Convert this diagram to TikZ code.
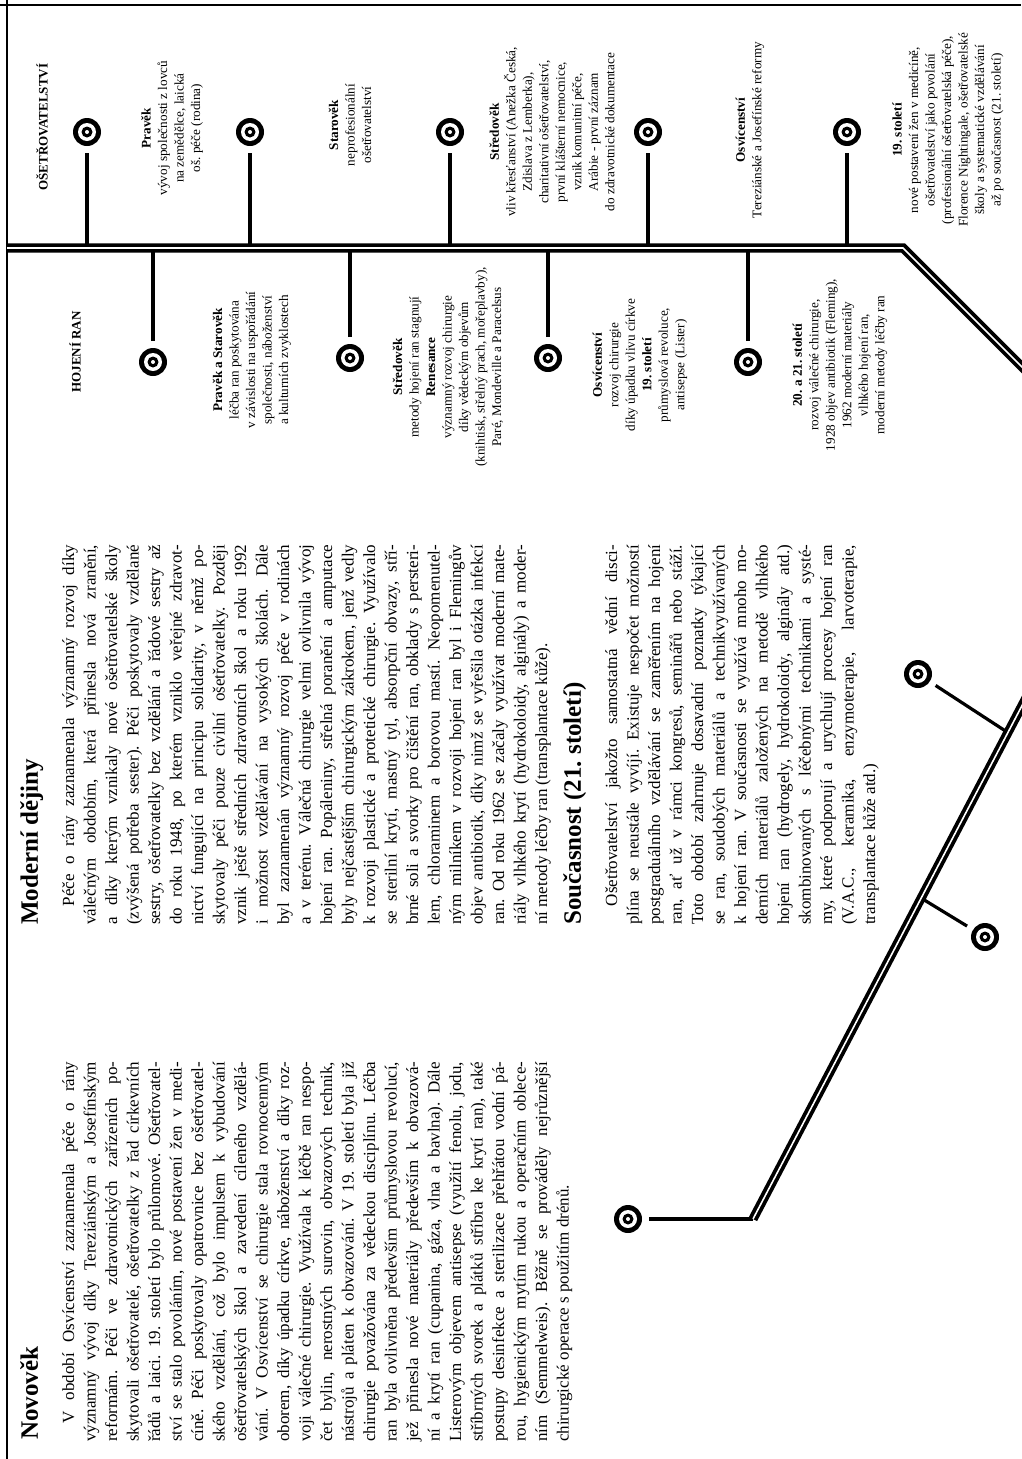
\documentclass[tikz,border=0pt]{standalone}
\usepackage{fontspec}
\setmainfont{Liberation Serif}
\usetikzlibrary{calc}
\frenchspacing
\newcommand\colsetup{\tolerance=9999\relax\hyphenpenalty=10000\relax}

\begin{document}
\begin{tikzpicture}[
  x=1pt, y=-1pt,
  heading/.style={rotate=90, anchor=north west, inner sep=0pt, font=\fontsize{25}{30}\selectfont\bfseries},
  textcol/.style={rotate=90, anchor=north west, inner sep=0pt, text width=380pt, align=justify, font=\fontsize{17}{21.5}\selectfont\colsetup},
  tlhead/.style={rotate=90, inner sep=0pt, font=\fontsize{13}{15}\selectfont\bfseries},
  event/.style={rotate=90, align=center, inner sep=0pt, font=\fontsize{13.2}{16.5}\selectfont},
  target/.style={circle, fill=black, minimum size=28pt, inner sep=0pt, outer sep=7pt,
    path picture={
      \fill[white] (path picture bounding box.center) circle[radius=9pt];
      \fill[black] (path picture bounding box.center) circle[radius=5.5pt];
      \fill[white] (path picture bounding box.center) circle[radius=2pt];}},
  stem/.style={line width=4pt},
  thinstem/.style={line width=3.2pt},
  rail/.style={line width=3.8pt, double=white, double distance=1.6pt, line join=miter},
  pageedge/.style={line width=1.6pt}
]
\useasboundingbox (0,0) rectangle (1021,1459);

% ================= PAGE EDGES =================
\draw[pageedge] (7,0) -- (7,1459);
\draw[pageedge] (0,5) -- (1021,5);

% ================= TIMELINE: HEADS =================
\node[tlhead] (hos) at (42,127) {OŠETŘOVATELSTVÍ};
\node[tlhead] (hhr) at (75,352) {HOJENÍ RAN};

% ================= TIMELINE: RAIL POINTS =================
\coordinate (r0) at (7,248);
\coordinate (rb) at (903,248);
\coordinate (r1) at (1060,405);
\coordinate (d0) at (1048,656);
\coordinate (d1) at (753,1219);

% top row (ošetřovatelství)
\node[target] (c1) at (87,132) {};
\node[target] (c2) at (250,132) {};
\node[target] (c3) at (450,132) {};
\node[target] (c4) at (648,132) {};
\node[target] (c5) at (847,132) {};
% bottom row (hojení ran)
\node[target] (c6) at (153,362) {};
\node[target] (c7) at (350,358) {};
\node[target] (c8) at (548,358) {};
\node[target] (c9) at (748,362) {};
% lower branch
\node[target] (c10) at (628,1219) {};
\node[target] (c11) at (918,674) {};
\node[target] (c12) at (985,937) {};

\foreach \i/\x in {1/87,2/250,3/450,4/648,5/847,6/153,7/350,8/548,9/748}
  \coordinate (t\i) at (\x,248);
\coordinate (b1) at ($(d0)!0.136!(d1)$);
\coordinate (b2) at ($(d0)!0.43!(d1)$);

% ================== STEMS ==================
\foreach \i in {1,...,9}
  \draw[stem] (c\i) -- (t\i);
\draw[thinstem] (c10) -- (d1);
\draw[thinstem] (c11) -- (b1);
\draw[thinstem] (c12) -- (b2);

% ================== RAILS ==================
\draw[rail] (r0) -- (rb) -- (r1);
\draw[rail] (d0) -- (d1);

% ================= EVENTS: TOP ROW =================
\node[event] (e1) at (172,128) {\textbf{Pravěk}\\vývoj společnosti z lovců\\na zemědělce, laická\\oš. péče (rodina)};
\node[event] (e2) at (350,125) {\textbf{Starověk}\\neprofesionální\\ošetřovatelství};
\node[event] (e3) at (552,132) {\textbf{Středověk}\\vliv křesťanství (Anežka Česká,\\Zdislava z Lemberka),\\charitativní ošetřovatelství,\\první klášterní nemocnice,\\vznik komunitní péče,\\Arábie - první záznam\\do zdravotnické dokumentace};
\node[event] (e4) at (750,130) {\textbf{Osvícenství}\\Tereziánské a Josefínské reformy};
\node[event] (e5) at (948,130) {\textbf{19. století}\\nové postavení žen v medicíně,\\ošetřovatelství jako povolání\\(profesionální ošetřovatelská péče),\\Florence Nightingale, ošetřovatelské\\školy a systematické vzdělávání\\až po současnost (21. století)};

% ================= EVENTS: BOTTOM ROW =================
\node[event] (e6) at (252,360) {\textbf{Pravěk a Starověk}\\léčba ran poskytována\\v závislosti na uspořádání\\společnosti, náboženství\\a kulturních zvyklostech};
\node[event] (e7) at (448,367) {\textbf{Středověk}\\metody hojení ran stagnují\\\textbf{Renesance}\\významný rozvoj chirurgie\\díky vědeckým objevům\\(knihtisk, střelný prach, mořeplavby),\\Paré, Mondeville a Paracelsus};
\node[event] (e8) at (640,365) {\textbf{Osvícenství}\\rozvoj chirurgie\\díky úpadku vlivu církve\\\textbf{19. století}\\průmyslová revoluce,\\antisepse (Lister)};
\node[event] (e9) at (840,365) {\textbf{20. a 21. století}\\rozvoj válečné chirurgie,\\1928 objev antibiotik (Fleming),\\1962 moderní materiály\\vlhkého hojení ran,\\moderní metody léčby ran};

% ================= NOVOVĚK =================
\node[heading] (hnov) at (20,1440) {Novověk};
\node[textcol] (tnov) at (62,1442) {\hspace*{1.1em}V období Osvícenství zaznamenala péče o rány\linebreak
významný vývoj díky Tereziánským a Josefínským\linebreak
reformám. Péči ve zdravotnických zařízeních po-\linebreak
skytovali ošetřovatelé, ošetřovatelky z řad církevních\linebreak
řádů a laici. 19. století bylo průlomové. Ošetřovatel-\linebreak
ství se stalo povoláním, nové postavení žen v medi-\linebreak
cíně. Péči poskytovaly opatrovnice bez ošetřovatel-\linebreak
ského vzdělání, což bylo impulsem k vybudování\linebreak
ošetřovatelských škol a zavedení cíleného vzdělá-\linebreak
vání. V Osvícenství se chirurgie stala rovnocenným\linebreak
oborem, díky úpadku církve, náboženství a díky roz-\linebreak
voji válečné chirurgie. Využívala k léčbě ran nespo-\linebreak
čet bylin, nerostných surovin, obvazových technik,\linebreak
nástrojů a pláten k obvazování. V 19. století byla již\linebreak
chirurgie považována za vědeckou disciplínu. Léčba\linebreak
ran byla ovlivněna především průmyslovou revolucí,\linebreak
jež přinesla nové materiály především k obvazová-\linebreak
ní a krytí ran (cupanina, gáza, vlna a bavlna). Dále\linebreak
Listerovým objevem antisepse (využití fenolu, jodu,\linebreak
stříbrných svorek a plátků stříbra ke krytí ran), také\linebreak
postupy desinfekce a sterilizace přehřátou vodní pá-\linebreak
rou, hygienickým mytím rukou a operačním oblece-\linebreak
ním (Semmelweis). Běžně se prováděly nejrůznější\linebreak
chirurgické operace s použitím drénů.};

% ================= MODERNÍ DĚJINY =================
\node[heading] (hmod) at (20,925) {Moderní dějiny};
\node[textcol] (tmod) at (62,925) {\hspace*{1.1em}Péče o rány zaznamenala významný rozvoj díky\linebreak
válečným obdobím, která přinesla nová zranění,\linebreak
a díky kterým vznikaly nové ošetřovatelské školy\linebreak
(zvýšená potřeba sester). Péči poskytovaly vzdělané\linebreak
sestry, ošetřovatelky bez vzdělání a řádové sestry až\linebreak
do roku 1948, po kterém vzniklo veřejné zdravot-\linebreak
nictví fungující na principu solidarity, v němž po-\linebreak
skytovaly péči pouze civilní ošetřovatelky. Později\linebreak
vznik ještě středních zdravotních škol a roku 1992\linebreak
i možnost vzdělávání na vysokých školách. Dále\linebreak
byl zaznamenán významný rozvoj péče v rodinách\linebreak
a v terénu. Válečná chirurgie velmi ovlivnila vývoj\linebreak
hojení ran. Popáleniny, střelná poranění a amputace\linebreak
byly nejčastějším chirurgickým zákrokem, jenž vedly\linebreak
k rozvoji plastické a protetické chirurgie. Využívalo\linebreak
se sterilní krytí, mastný tyl, absorpční obvazy, stří-\linebreak
brné soli a svorky pro čištění ran, obklady s persteri-\linebreak
lem, chloraminem a borovou mastí. Neopomenutel-\linebreak
ným milníkem v rozvoji hojení ran byl i Flemingův\linebreak
objev antibiotik, díky nimž se vyřešila otázka infekcí\linebreak
ran. Od roku 1962 se začaly využívat moderní mate-\linebreak
riály vlhkého krytí (hydrokoloidy, alginály) a moder-\linebreak
ní metody léčby ran (transplantace kůže).};

% ================= SOUČASNOST =================
\node[heading] (hsou) at (563,925) {Současnost (21. století)};
\node[textcol] (tsou) at (605,925) {\hspace*{1.1em}Ošetřovatelství jakožto samostatná vědní disci-\linebreak
plína se neustále vyvíjí. Existuje nespočet možností\linebreak
postgraduálního vzdělávání se zaměřením na hojení\linebreak
ran, ať už v rámci kongresů, seminářů nebo stáží.\linebreak
Toto období zahrnuje dosavadní poznatky týkající\linebreak
se ran, soudobých materiálů a technikvyužívaných\linebreak
k hojení ran. V současnosti se využívá mnoho mo-\linebreak
derních materiálů založených na metodě vlhkého\linebreak
hojení ran (hydrogely, hydrokoloidy, alginály atd.)\linebreak
skombinovaných s léčebnými technikami a systé-\linebreak
my, které podporují a urychlují procesy hojení ran\linebreak
(V.A.C., keramika, enzymoterapie, larvoterapie,\linebreak
transplantace kůže atd.)};

\end{tikzpicture}
\end{document}
